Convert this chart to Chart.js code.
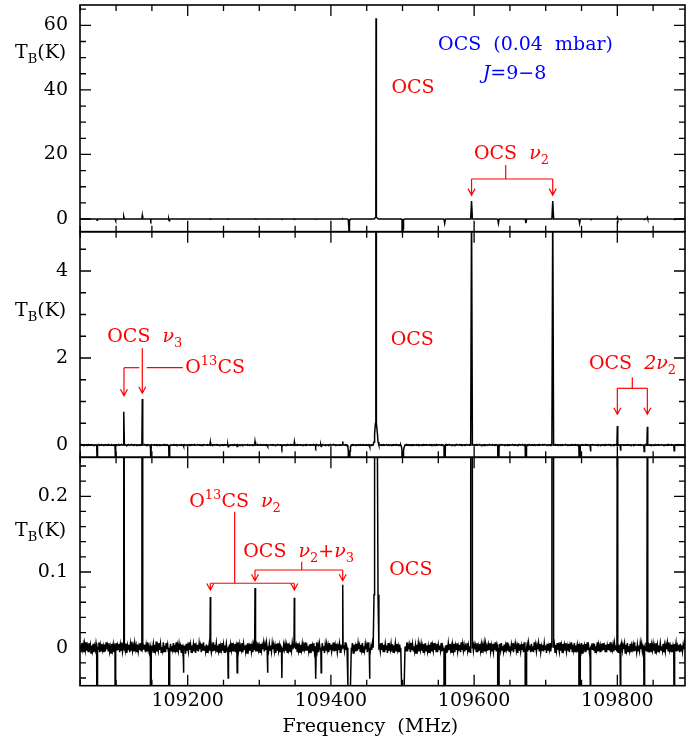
<!DOCTYPE html>
<html>
<head>
<script src="https://cdn.jsdelivr.net/npm/chart.js"></script>
<title>OCS J=9-8</title>
<style>
  body { margin: 0; background: white; }
  canvas { display: block; }
</style>
</head>
<body>
<canvas id="spectrum" width="697" height="742"></canvas>
<script>
// frequency axis (MHz)
const freqMin = 109049.6;
const freqMax = 109894.5;
const freqTicks = [109200, 109400, 109600, 109800];
const freqMinorStep = 50;

// three panels show the same spectrum, only the T_B range changes
const panelIds = ['top', 'mid', 'low'];
const panelMin = [-3.93, -0.283, -0.0502];
const panelMax = [66.3, 4.903, 0.2515];
const panelTicks = [[0, 20, 40, 60], [0, 2, 4], [0, 0.1, 0.2]];
const panelMinorStep = [5, 0.5, 0.02];
const panelWeights = [226.7, 225.6, 228.4];

// baseline noise in mK, one sample every 1 MHz from 109050 MHz
const noiseStart = 109050;
const noiseStep = 1;
const noiseMK = [
  3,-5,6,-2,4,-6,5,-3,7,-4,2,-5,6,-1,4,-7,3,-4,5,-6,2,-3,6,-5,4,-2,7,-6,3,-4,
  5,-3,2,-6,4,-5,7,-2,3,-4,6,-5,1,-7,5,-3,4,-6,2,-5,6,-4,3,-2,5,-6,4,-3,7,-5,
  2,-4,6,-3,5,-7,3,-2,4,-6,5,-3,8,-4,2,-5,6,-2,3,-6,4,-5,2,-3,6,-4,5,-7,3,-2,
  4,-6,3,-5,7,-3,2,-4,6,-5,3,-2,5,-6,4,-3,8,-5,2,-4,6,-3,5,-6,1,-4,7,-5,3,-6,
  6,-2,4,-5,3,-7,5,-4,2,-3,6,-5,4,-2,7,-6,3,-4,5,-3,2,-6,4,-5,6,-2,3,-8,5,-4,
  2,-5,7,-3,4,-6,3,-2,5,-4,6,-7,2,-3,4,-5,6,-2,3,-6,5,-4,7,-3,2,-5,4,-6,3,-2,
  5,-4,3,-6,2,-5,7,-3,4,-2,6,-5,3,-4,5,-7,2,-3,6,-4,4,-6,3,-2,5,-5,7,-3,2,-6,
  4,-3,6,-5,2,-4,5,-6,3,-2,7,-4,4,-5,2,-3,6,-6,5,-2,3,-5,4,-7,6,-3,2,-4,5,-5,
  3,-6,4,-2,6,-5,3,-4,7,-3,2,-6,5,-4,3,-2,6,-5,4,-3,7,-6,2,-4,5,-3,3,-5,6,-2,
  4,-5,2,-7,5,-3,6,-4,3,-5,2,-3,7,-6,4,-2,5,-4,3,-6,6,-3,2,-5,4,-4,6,-2,3,-7,
  5,-2,3,-5,6,-4,2,-6,4,-3,5,-5,3,-2,7,-4,6,-3,2,-5,4,-6,5,-2,3,-4,6,-5,2,-3,
  7,-4,3,-6,5,-2,4,-5,6,-3,2,-7,4,-4,5,-3,3,-6,6,-2,4,-5,2,-3,7,-5,3,-4,5,-6,
  2,-3,5,-6,4,-2,6,-5,3,-4,7,-3,2,-5,4,-6,5,-2,3,-4,6,-7,4,-3,2,-5,5,-4,6,-2,
  3,-5,4,-3,6,-6,2,-4,5,-2,3,-6,7,-4,4,-5,2,-3,6,-5,3,-2,5,-6,4,-4,7,-3,2,-5,
  6,-3,2,-5,4,-6,5,-2,3,-7,6,-4,2,-3,5,-5,4,-6,3,-2,6,-4,5,-3,2,-6,4,-5,7,-2,
  4,-6,5,-3,2,-4,7,-5,3,-2,4,-6,6,-3,5,-4,2,-5,3,-7,4,-2,6,-5,3,-3,5,-4,2,-6,
  5,-3,6,-4,3,-5,2,-6,4,-2,7,-5,3,-4,6,-3,2,-5,5,-6,4,-2,3,-4,6,-5,2,-3,7,-4,
  3,-6,4,-5,6,-2,5,-3,2,-7,4,-4,5,-6,3,-2,6,-5,2,-3,4,-6,7,-3,5,-4,3,-5,2,-2,
  6,-4,3,-5,2,-6,5,-3,7,-4,4,-2,3,-5,6,-6,2,-3,5,-4,4,-7,3,-2,6,-5,5,-3,2,-4,
  4,-2,6,-5,3,-4,5,-6,2,-3,7,-5,4,-2,3,-6,5,-4,6,-3,2,-5,4,-6,3,-2,7,-4,5,-5,
  2,-5,4,-3,6,-6,3,-2,5,-4,2,-7,6,-3,4,-5,3,-2,5,-6,7,-4,2,-3,4,-5,6,-2,3,-6,
  5,-4,2,-6,7,-3,4,-5,3,-2,6,-4,5,-6,2,-3,4,-5,6,-2,3,-7,5,-4,2,-3,6,-5,4,-3,
  3,-2,5,-6,4,-4,6,-3,2,-5,7,-4,3,-6,5,-2,4,-3,6,-5,2,-4,5,-6,3,-2,7,-5,4,-3,
  6,-5,3,-2,4,-6,5,-4,2,-3,6,-7,4,-2,3,-5,5,-4,7,-3,2,-6,4,-5,3,-2,6,-4,5,-6,
  2,-3,7,-5,4,-2,3,-6,5,-4,6,-3,2,-5,4,-6,3,-2,5,-4,7,-6,2,-3,4,-5,6,-2,3,-4,
  5,-6,4,-3,2,-5,6,-4,3,-2,5,-7,4,-3,6,-5,2,-4,5,-6,3,-2,4,-5,7,-3,2,-6,4,-4,
  3,-4,6,-2,5,-5,2,-6,4,-3,7,-4,3,-5,2,-2,6,-6,4,-3,5,-4,2,-7,6,-3,4,-5,3,-2,
  6,-3,2,-4,5,-6,3,-5,4,-2,6,-4,7,-3,2,-5,4,-6,3,-4,5,-2,6,-5,2,-3,4,-6,5,-4,
  3,-5,4,-2,6,-3,5,-6,2,-4,7,-5,3,-3,4,-6,5,-2
];

// narrow emission lines: frequency (MHz), peak T_B (K), half width at base (MHz)
const lineFreqs = [109111.0, 109136.6, 109231.6, 109294.0, 109348.9, 109416.5, 109596.4, 109709.8, 109800.0, 109841.9];
const linePeaks = [0.766, 1.057, 0.067, 0.079, 0.066, 0.083, 5.58, 5.58, 0.437, 0.42];
const lineHalfWidths = [0.6, 0.6, 0.5, 0.5, 0.5, 0.5, 1.2, 1.2, 0.6, 0.6];

// negative images from frequency switching
const ghostFreqs = [109073.5, 109148.5, 109099.1, 109174.1, 109194.1, 109269.1, 109256.5, 109331.5, 109311.4, 109386.4,
                    109379.0, 109454.0, 109558.9, 109633.9, 109672.3, 109747.3, 109762.5, 109837.5, 109804.4, 109879.4];
const ghostDepths = [-0.38, -0.38, -0.53, -0.53, -0.033, -0.033, -0.04, -0.04, -0.033, -0.033,
                     -0.041, -0.041, -1.3, -1.3, -1.3, -1.3, -0.15, -0.15, -0.13, -0.13];
const ghostHalfWidths = [0.6, 0.6, 0.6, 0.6, 0.5, 0.5, 0.5, 0.5, 0.5, 0.5,
                         0.5, 0.5, 1.0, 1.0, 1.0, 1.0, 0.6, 0.6, 0.6, 0.6];

// main OCS J=9-8 line, sampled profile (offset MHz, T_B K)
const mainFreq = 109463.0;
const mainOffsets = [-4.0, -2.8, -2.0, -0.8, -0.25, 0, 0.25, 0.8, 2.0, 2.8, 4.0];
const mainValues = [0, 0.07, 0.25, 0.5, 6.0, 62.2, 6.0, 0.5, 0.25, 0.07, 0];
// its two negative images
const mainGhostFreqs = [109425.5, 109500.5];
const mainGhostOffsets = [-3.0, -1.8, -1.2, -0.6, -0.25, 0, 0.25, 0.6, 1.2, 1.8, 3.0];
const mainGhostValues = [0, -0.05, -0.13, -0.5, -3.0, -30, -3.0, -0.5, -0.13, -0.05, 0];

const RED = '#ff0000';
const BLUE = '#0000ff';
const SERIF = '"DejaVu Serif", "Liberation Serif", serif';
const FONT_SIZE = 19;

// labels, placed in (frequency, T_B) of their panel
const labels = [
  {panel: 'top', f: 109484.6, t: 39.1, align: 'left', color: RED, parts: [['OCS']]},
  {panel: 'top', f: 109671.8, t: 52.35, align: 'center', color: BLUE, parts: [['OCS (0.04 mbar)']]},
  {panel: 'top', f: 109656.4, t: 43.4, align: 'center', color: BLUE, parts: [['J', 'i'], ['=9\u22128']]},
  {panel: 'top', f: 109652.2, t: 18.6, align: 'center', color: RED, parts: [['OCS '], ['\u03bd', 'i'], ['2', 'sub']]},
  {panel: 'mid', f: 109087.7, t: 2.36, align: 'left', color: RED, parts: [['OCS '], ['\u03bd', 'i'], ['3', 'sub']]},
  {panel: 'mid', f: 109196.6, t: 1.662, align: 'left', color: RED, parts: [['O'], ['13', 'sup'], ['CS']]},
  {panel: 'mid', f: 109483.5, t: 2.30, align: 'left', color: RED, parts: [['OCS']]},
  {panel: 'mid', f: 109760.4, t: 1.74, align: 'left', color: RED, parts: [['OCS '], ['2\u03bd', 'i'], ['2', 'sub']]},
  {panel: 'low', f: 109202.2, t: 0.1855, align: 'left', color: RED, parts: [['O'], ['13', 'sup'], ['CS '], ['\u03bd', 'i'], ['2', 'sub']]},
  {panel: 'low', f: 109277.6, t: 0.1194, align: 'left', color: RED, parts: [['OCS '], ['\u03bd', 'i'], ['2', 'sub'], ['+'], ['\u03bd', 'i'], ['3', 'sub']]},
  {panel: 'low', f: 109481.5, t: 0.096, align: 'left', color: RED, parts: [['OCS']]}
];

// connector lines and arrows for the labels
const connectors = [
  {panel: 'top', pts: [[109644.1, 16.7], [109644.1, 12.4]]},
  {panel: 'top', pts: [[109596.4, 12.4], [109709.8, 12.4]]},
  {panel: 'mid', pts: [[109193.0, 1.777], [109142.7, 1.777]]},
  {panel: 'mid', pts: [[109132.4, 1.777], [109111.0, 1.777]]},
  {panel: 'mid', pts: [[109820.9, 1.556], [109820.9, 1.303]]},
  {panel: 'mid', pts: [[109800.0, 1.303], [109841.9, 1.303]]},
  {panel: 'low', pts: [[109265.6, 0.1797], [109265.6, 0.0851]]},
  {panel: 'low', pts: [[109231.6, 0.0851], [109348.9, 0.0851]]},
  {panel: 'low', pts: [[109359.2, 0.1136], [109359.2, 0.1026]]},
  {panel: 'low', pts: [[109294.0, 0.1026], [109416.5, 0.1026]]}
];
const arrows = [
  {panel: 'top', f: 109596.4, from: 12.4, to: 7.4},
  {panel: 'top', f: 109709.8, from: 12.4, to: 7.4},
  {panel: 'mid', f: 109136.6, from: 2.223, to: 1.189},
  {panel: 'mid', f: 109111.0, from: 1.777, to: 1.133},
  {panel: 'mid', f: 109800.0, from: 1.303, to: 0.706},
  {panel: 'mid', f: 109841.9, from: 1.303, to: 0.706},
  {panel: 'low', f: 109231.6, from: 0.0851, to: 0.0762},
  {panel: 'low', f: 109348.9, from: 0.0851, to: 0.0762},
  {panel: 'low', f: 109294.0, from: 0.1026, to: 0.0885},
  {panel: 'low', f: 109416.5, from: 0.1026, to: 0.0885}
];
const yTitleT = [50.0, 2.97, 0.1476];
const xTitleFreq = 109455;

function buildSpectrum() {
  const shapes = [];
  lineFreqs.forEach((f, i) => {
    const w = lineHalfWidths[i];
    shapes.push({f: f, w: w, pts: [[f - w, 0], [f, linePeaks[i]], [f + w, 0]]});
  });
  ghostFreqs.forEach((f, i) => {
    const w = ghostHalfWidths[i];
    shapes.push({f: f, w: w, pts: [[f - w, 0], [f, ghostDepths[i]], [f + w, 0]]});
  });
  shapes.push({f: mainFreq, w: 4, pts: mainOffsets.map((o, i) => [mainFreq + o, mainValues[i]])});
  mainGhostFreqs.forEach(f => {
    shapes.push({f: f, w: 3, pts: mainGhostOffsets.map((o, i) => [f + o, mainGhostValues[i]])});
  });

  const pts = [];
  noiseMK.forEach((n, i) => {
    const f = noiseStart + i * noiseStep;
    if (shapes.some(s => Math.abs(f - s.f) <= s.w)) return;
    pts.push({x: f, y: n / 1000});
  });
  shapes.forEach(s => s.pts.forEach(p => pts.push({x: p[0], y: p[1]})));
  pts.sort((a, b) => a.x - b.x);
  return pts;
}

function fontFor(style) {
  const small = style.indexOf('sub') >= 0 || style.indexOf('sup') >= 0;
  const italic = style.indexOf('i') === 0 ? 'italic ' : '';
  return italic + (small ? 13 : FONT_SIZE) + 'px ' + SERIF;
}

// draws text made of normal / italic / sub / sup pieces; spaces drawn a bit wider
function drawRich(ctx, parts, x, y, align, color) {
  const extraSpace = 6;
  const widths = parts.map(([t, st]) => {
    ctx.font = fontFor(st || '');
    return ctx.measureText(t).width + (t.split(' ').length - 1) * extraSpace;
  });
  const total = widths.reduce((a, b) => a + b, 0);
  let cx = align === 'center' ? x - total / 2 : (align === 'right' ? x - total : x);
  ctx.fillStyle = color;
  ctx.textAlign = 'left';
  ctx.textBaseline = 'alphabetic';
  parts.forEach(([t, st], i) => {
    st = st || '';
    ctx.font = fontFor(st);
    const dy = st.indexOf('sub') >= 0 ? 5 : (st.indexOf('sup') >= 0 ? -8 : 0);
    let wx = cx;
    const words = t.split(' ');
    words.forEach((w, k) => {
      ctx.fillText(w, wx, y + dy);
      wx += ctx.measureText(w).width;
      if (k < words.length - 1) wx += ctx.measureText(' ').width + extraSpace;
    });
    cx += widths[i];
  });
}

const panelClip = {
  id: 'panelClip',
  beforeDatasetDraw(chart, args) {
    const s = chart.scales[args.meta.yAxisID];
    const a = chart.chartArea;
    chart.ctx.save();
    chart.ctx.beginPath();
    chart.ctx.rect(a.left, s.top, a.right - a.left, s.bottom - s.top);
    chart.ctx.clip();
  },
  afterDatasetDraw(chart) {
    chart.ctx.restore();
  }
};

const frames = {
  id: 'frames',
  afterDatasetsDraw(chart) {
    const ctx = chart.ctx;
    const a = chart.chartArea;
    const xs = chart.scales.x;
    ctx.save();
    ctx.strokeStyle = '#000';
    panelIds.forEach((id, k) => {
      const s = chart.scales[id];
      ctx.lineWidth = 1.6;
      ctx.strokeRect(a.left, s.top, a.right - a.left, s.bottom - s.top);
      ctx.lineWidth = 1.3;
      ctx.beginPath();
      const step = panelMinorStep[k];
      for (let n = Math.ceil(panelMin[k] / step); n * step <= panelMax[k]; n++) {
        const v = n * step;
        const major = panelTicks[k].some(t => Math.abs(t - v) < step / 10);
        const len = major ? 11 : 6;
        const y = s.getPixelForValue(v);
        ctx.moveTo(a.left, y); ctx.lineTo(a.left + len, y);
        ctx.moveTo(a.right, y); ctx.lineTo(a.right - len, y);
      }
      for (let n = Math.ceil(freqMin / freqMinorStep); n * freqMinorStep <= freqMax; n++) {
        const v = n * freqMinorStep;
        const len = freqTicks.indexOf(v) >= 0 ? 11 : 6;
        const x = xs.getPixelForValue(v);
        ctx.moveTo(x, s.top); ctx.lineTo(x, s.top + len);
        ctx.moveTo(x, s.bottom); ctx.lineTo(x, s.bottom - len);
      }
      ctx.stroke();
    });
    ctx.restore();
  },
  afterDraw(chart) {
    const ctx = chart.ctx;
    const xs = chart.scales.x;
    ctx.save();
    // axis titles
    panelIds.forEach((id, k) => {
      const y = chart.scales[id].getPixelForValue(yTitleT[k]);
      drawRich(ctx, [['T'], ['B', 'sub'], ['(K)']], chart.chartArea.left - 65, y, 'left', '#000');
    });
    drawRich(ctx, [['Frequency (MHz)']], xs.getPixelForValue(xTitleFreq), chart.height - 10, 'center', '#000');
    // connectors and arrows
    ctx.strokeStyle = RED;
    ctx.lineWidth = 1.2;
    connectors.forEach(c => {
      const s = chart.scales[c.panel];
      ctx.beginPath();
      c.pts.forEach((p, i) => {
        const px = xs.getPixelForValue(p[0]);
        const py = s.getPixelForValue(p[1]);
        if (i === 0) ctx.moveTo(px, py); else ctx.lineTo(px, py);
      });
      ctx.stroke();
    });
    arrows.forEach(ar => {
      const s = chart.scales[ar.panel];
      const px = xs.getPixelForValue(ar.f);
      const y0 = s.getPixelForValue(ar.from);
      const y1 = s.getPixelForValue(ar.to);
      ctx.beginPath();
      ctx.moveTo(px, y0); ctx.lineTo(px, y1);
      ctx.moveTo(px - 3.5, y1 - 6.5); ctx.lineTo(px, y1); ctx.lineTo(px + 3.5, y1 - 6.5);
      ctx.stroke();
    });
    labels.forEach(l => {
      const s = chart.scales[l.panel];
      drawRich(ctx, l.parts, xs.getPixelForValue(l.f), s.getPixelForValue(l.t), l.align, l.color);
    });
    ctx.restore();
  }
};

const spectrum = buildSpectrum();

const scales = {
  x: {
    type: 'linear',
    position: 'bottom',
    min: freqMin,
    max: freqMax,
    grid: {display: false, drawTicks: false},
    border: {display: false},
    ticks: {
      color: '#000',
      font: {family: SERIF, size: FONT_SIZE},
      padding: 4,
      maxRotation: 0,
      autoSkip: false,
      callback: v => String(v)
    },
    afterBuildTicks: s => { s.ticks = freqTicks.map(v => ({value: v})); },
    afterFit: s => { s.height = 56.3; s.paddingLeft = 0; s.paddingRight = 0; }
  }
};
// Chart.js puts the last stacked left axis on top, so add the bottom panel first
for (let k = 2; k >= 0; k--) {
  scales[panelIds[k]] = {
    type: 'linear',
    position: 'left',
    stack: 'spectrum',
    stackWeight: panelWeights[k],
    min: panelMin[k],
    max: panelMax[k],
    grid: {display: false, drawTicks: false},
    border: {display: false},
    ticks: {
      color: '#000',
      font: {family: SERIF, size: FONT_SIZE},
      padding: 12,
      callback: v => String(v)
    },
    afterBuildTicks: s => { s.ticks = panelTicks[k].map(v => ({value: v})); },
    afterFit: s => { s.width = 80; s.paddingTop = 0; s.paddingBottom = 0; }
  };
}

new Chart(document.getElementById('spectrum'), {
  type: 'line',
  data: {
    datasets: panelIds.map(id => ({
      data: spectrum.map(p => ({x: p.x, y: p.y})),
      yAxisID: id,
      borderColor: '#000',
      borderWidth: 1.5,
      pointRadius: 0,
      tension: 0,
      fill: false
    }))
  },
  options: {
    responsive: false,
    animation: false,
    layout: {padding: {left: 0, right: 12, top: 5, bottom: 0}},
    plugins: {legend: {display: false}, tooltip: {enabled: false}},
    scales: scales
  },
  plugins: [panelClip, frames]
});
</script>
</body>
</html>
